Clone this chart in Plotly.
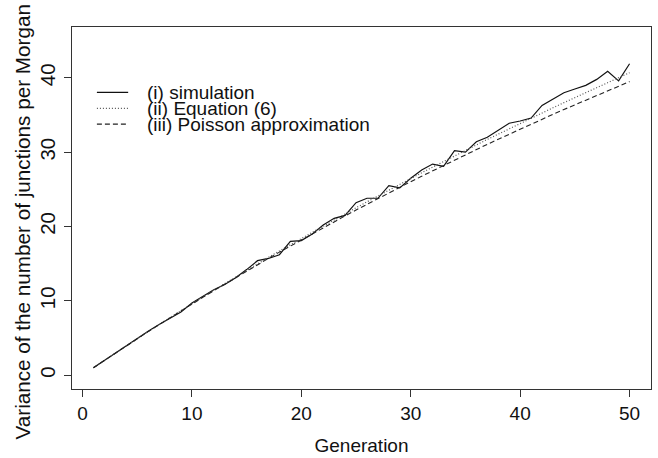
import plotly.graph_objects as go

generation = list(range(1, 51))

simulation = [1.0, 2.0, 3.0, 3.9, 4.9, 5.9, 6.8, 7.7, 8.5, 9.7,
              10.6, 11.5, 12.2, 13.1, 14.2, 15.4, 15.7, 16.2, 18.0, 18.1,
              19.0, 20.2, 21.1, 21.5, 23.2, 23.8, 23.8, 25.5, 25.2, 26.5,
              27.6, 28.4, 28.1, 30.2, 30.0, 31.4, 32.0, 32.9, 33.9, 34.2,
              34.6, 36.3, 37.2, 38.0, 38.5, 39.0, 39.8, 40.9, 39.6, 41.9]

equation6 = [1.00, 1.99, 2.97, 3.95, 4.91, 5.87, 6.81, 7.76, 8.69, 9.61,
             10.53, 11.43, 12.33, 13.22, 14.10, 14.97, 15.85, 16.71, 17.55, 18.40,
             19.24, 20.07, 20.89, 21.71, 22.52, 23.32, 24.12, 24.91, 25.68, 26.46,
             27.23, 27.99, 28.75, 29.49, 30.25, 30.98, 31.72, 32.43, 33.16, 33.87,
             34.58, 35.28, 35.98, 36.67, 37.35, 38.04, 38.71, 39.38, 40.04, 40.70]

poisson = [1.00, 1.99, 2.97, 3.94, 4.90, 5.85, 6.79, 7.73, 8.65, 9.56,
           10.47, 11.36, 12.25, 13.13, 13.99, 14.85, 15.71, 16.55, 17.38, 18.21,
           19.03, 19.84, 20.64, 21.43, 22.22, 23.00, 23.77, 24.53, 25.28, 26.03,
           26.77, 27.50, 28.23, 28.94, 29.66, 30.36, 31.06, 31.74, 32.43, 33.10,
           33.77, 34.43, 35.09, 35.74, 36.38, 37.02, 37.65, 38.27, 38.89, 39.50]

series_names = ["(i) simulation", "(ii) Equation (6)", "(iii) Poisson approximation"]
x_ticks = [0, 10, 20, 30, 40, 50]
y_ticks = [0, 10, 20, 30, 40]

FONT = "Liberation Sans, Arial, Helvetica, sans-serif"
styles = [
    dict(color="#111111", width=1.2, dash="solid"),
    dict(color="#555555", width=1.2, dash="1px,2px"),
    dict(color="#222222", width=1.1, dash="5px,3px"),
]

fig = go.Figure()
for name, vals, st in zip(series_names, [simulation, equation6, poisson], styles):
    fig.add_trace(go.Scatter(x=generation, y=vals, mode="lines", name=name,
                             line=st, showlegend=False))

# manual legend (R-style, tight rows)
L_TOP = 0.8192
L_STEP = 0.0438
for i, (name, st) in enumerate(zip(series_names, styles)):
    yy = L_TOP - i * L_STEP
    fig.add_shape(type="line", xref="paper", yref="paper",
                  x0=0.043, x1=0.097, y0=yy, y1=yy, line=st)
    fig.add_annotation(xref="paper", yref="paper", x=0.126, y=yy,
                       xanchor="left", yanchor="middle", showarrow=False,
                       text=name, font=dict(family=FONT, size=19, color="#111"))

# y-axis title placed like the R original
fig.add_annotation(xref="paper", yref="paper", x=-0.0863, y=0.46,
                   xanchor="center", yanchor="middle", showarrow=False, textangle=-90,
                   text="Variance of the number of junctions per Morgan",
                   font=dict(family=FONT, size=20.7, color="#111"))

axis_common = dict(showline=True, linecolor="#333333", linewidth=1, mirror=True,
                   ticks="outside", ticklen=7, tickwidth=1, tickcolor="#333333",
                   showgrid=False, zeroline=False)

fig.update_xaxes(range=[-0.96, 51.96], tickvals=x_ticks,
                 tickfont=dict(family=FONT, size=19, color="#111"),
                 title=dict(text="Generation", font=dict(family=FONT, size=19, color="#111"), standoff=15),
                 **axis_common)
fig.update_yaxes(range=[-1.87, 46.85], tickvals=y_ticks, tickangle=-90,
                 tickfont=dict(family=FONT, size=20.5, color="#111"),
                 ticklabelstandoff=1,
                 **axis_common)

fig.update_layout(width=658, height=458,
                  margin=dict(l=72, r=6, t=27, b=66),
                  paper_bgcolor="white", plot_bgcolor="white",
                  showlegend=False)

fig.write_html("out.html")
